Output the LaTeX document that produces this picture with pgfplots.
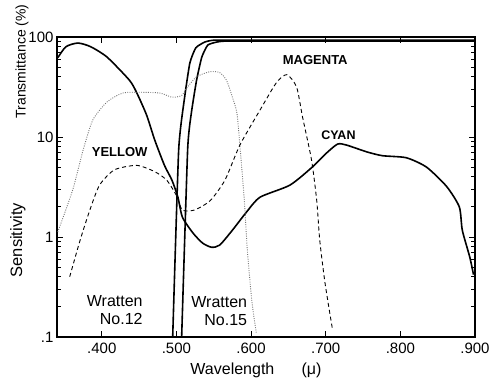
\documentclass[border=0pt]{standalone}
\usepackage{fontspec}
\setmainfont{Liberation Sans}
\usepackage{pgfplots}
\pgfplotsset{compat=1.18}
\begin{document}
\begin{tikzpicture}
\useasboundingbox (-57pt,-48pt) rectangle (434pt,337pt);
\begin{axis}[
  at={(0pt,0pt)}, anchor=south west,
  scale only axis, width=418pt, height=300pt,
  xmin=0.34, xmax=0.9, ymode=log, ymin=0.1, ymax=100,
  xtick={0.4,0.5,0.6,0.7,0.8,0.9},
  xticklabels={.400,.500,.600,.700,.800,.900},
  ytick={0.1,1,10,100}, yticklabels={.1,1,10,100},
  tick label style={font=\fontsize{15}{15}\selectfont},
  xticklabel style={yshift=-2pt},
  axis line style={line width=1.4pt},
  major tick length=6pt, minor tick length=4pt,
  every tick/.style={black, line width=0.9pt},
  clip=false,
]
% Solid sensitivity curve (left + cyan)
\addplot[black, line width=1.6pt, smooth, tension=0.4] coordinates {
(0.341,62) (0.352,80) (0.368,87) (0.385,80) (0.407,63) (0.437,37) (0.447,27.5) (0.460,16.6)
(0.471,9.3) (0.484,5.2) (0.494,3.7) (0.502,2.5) (0.508,1.58) (0.522,1.10)
(0.535,0.87) (0.547,0.79) (0.558,0.83) (0.575,1.17) (0.594,1.78) (0.612,2.5)
(0.652,3.3) (0.682,5.0) (0.701,6.9) (0.716,8.5) (0.728,8.3) (0.755,7.1)
(0.776,6.5) (0.808,6.2) (0.835,5.0) (0.862,3.2) (0.879,2.0) (0.883,1.17)
(0.893,0.63) (0.898,0.42)
};
% Wratten No.12
\addplot[black, line width=1.6pt, smooth, tension=0.3] coordinates {
(0.495,0.1) (0.503,7.4) (0.511,25) (0.518,55) (0.526,78) (0.538,89) (0.551,93) (0.6,93) (0.9,93)
};
% Wratten No.15
\addplot[black, line width=1.6pt, smooth, tension=0.3] coordinates {
(0.507,0.1) (0.515,7.4) (0.520,17.4) (0.527,37) (0.534,63) (0.542,83) (0.554,89) (0.565,91) (0.6,91) (0.9,91)
};
% Yellow (dotted)
\addplot[black!55, line width=0.9pt, dash pattern=on 0.9pt off 1.4pt, smooth, tension=0.4] coordinates {
(0.341,1.12) (0.361,2.95) (0.375,7.4) (0.388,14.8) (0.407,22.4) (0.428,27.5)
(0.451,28) (0.478,27.5) (0.494,25) (0.507,26) (0.514,31) (0.527,40)
(0.545,45) (0.558,44) (0.567,37) (0.575,25) (0.581,17.4) (0.585,8.3)
(0.591,2.3) (0.595,0.74) (0.601,0.23) (0.607,0.11)
};
% Magenta (dashed)
\addplot[black, line width=0.9pt, dash pattern=on 4pt off 3pt, smooth, tension=0.4] coordinates {
(0.357,0.40) (0.371,0.93) (0.384,1.86) (0.397,3.3) (0.417,4.7) (0.447,5.2)
(0.471,4.5) (0.487,3.7) (0.500,2.6) (0.508,1.86) (0.524,1.86) (0.545,2.3)
(0.565,3.7) (0.585,8.3) (0.612,18.6) (0.634,35) (0.648,42) (0.661,31.6)
(0.669,15.8) (0.681,5.9) (0.688,2.3) (0.692,0.93) (0.699,0.35) (0.709,0.12)
};
\node[font=\fontsize{13}{13}\selectfont\bfseries] at (axis cs:0.424,7.1) {YELLOW};
\node[font=\fontsize{13}{13}\selectfont\bfseries] at (axis cs:0.686,59) {MAGENTA};
\node[font=\fontsize{12.5}{12.5}\selectfont\bfseries] at (axis cs:0.717,10.5) {CYAN};
\node[anchor=east, align=right, font=\fontsize{16}{18}\selectfont, inner sep=0pt] at (axis cs:0.455,0.186) {Wratten\\No.12};
\node[anchor=east, align=right, font=\fontsize{16}{18}\selectfont, inner sep=0pt] at (axis cs:0.595,0.182) {Wratten\\No.15};
\node[font=\fontsize{16}{16}\selectfont] at (axis cs:0.575,0.1) [yshift=-33pt] {Wavelength};
\node[font=\fontsize{16}{16}\selectfont] at (axis cs:0.681,0.1) [yshift=-33pt] {(μ)};
\node[rotate=90, font=\fontsize{14}{14}\selectfont] at (axis cs:0.293,57) {Transmittance (\%)};
\node[rotate=90, font=\fontsize{16.5}{16.5}\selectfont] at (axis cs:0.2876,0.93) {Sensitivity};
\end{axis}
\end{tikzpicture}
\end{document}
